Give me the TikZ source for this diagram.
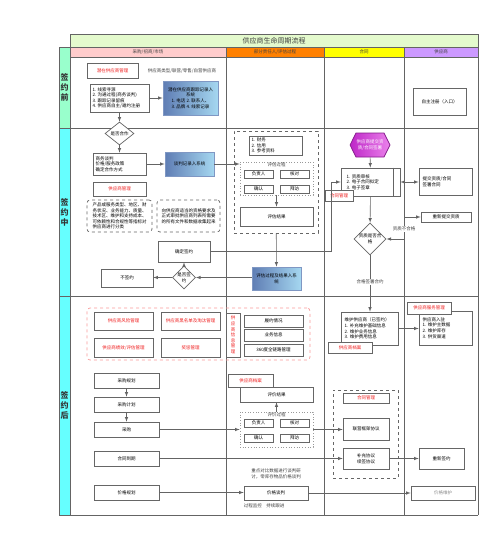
\documentclass[tikz,border=0pt]{standalone}
\usepackage{fontspec}
\setmainfont{Noto Sans CJK SC}
\XeTeXlinebreaklocale "zh"
\usetikzlibrary{shapes.geometric,shapes.symbols}

\definecolor{ttl}{RGB}{228,250,205}
\definecolor{hpink}{RGB}{255,204,204}
\definecolor{horange}{RGB}{255,128,0}
\definecolor{hyellow}{RGB}{255,255,0}
\definecolor{hpurple}{RGB}{204,153,255}
\definecolor{bandg}{RGB}{153,255,204}
\definecolor{bandc}{RGB}{102,255,255}
\definecolor{bluea}{RGB}{95,125,180}
\definecolor{blueb}{RGB}{165,215,240}
\definecolor{maga}{RGB}{190,40,200}
\definecolor{magb}{RGB}{235,130,235}
\definecolor{rtxt}{RGB}{240,30,30}
\definecolor{lgray}{RGB}{100,100,100}
\newcommand{\fs}{\fontsize{4.5}{5.6}\selectfont}

\begin{document}
\begin{tikzpicture}[>=latex,x=1pt,y=-1pt,
  bx/.style={draw=black!60,line width=0.7pt,fill=white,inner sep=0.5pt,align=center,font=\fs},
  rbx/.style={bx,text=rtxt},
  bbx/.style={bx,draw=bluea!80,left color=bluea,right color=blueb},
  dia/.style={bx,diamond,inner sep=0pt},
  note/.style={bx,dashed,rounded corners=3pt,align=left},
  grp/.style={draw=black!60,dashed,line width=0.7pt},
  sub/.style={draw=black!40,dotted,line width=0.7pt},
  hd/.style={draw=lgray,line width=0.5pt,inner sep=0pt,font=\fs,text=black!75},
  ln/.style={draw=lgray,line width=0.6pt},
  tag/.style={font=\fs,text=black!75,inner sep=0.5pt}]
\useasboundingbox (0,0) rectangle (500,538);

% lanes
\draw[ln] (59,128) -- (478,128);
\draw[ln] (59,296) -- (478,296);
\draw[ln] (59,515) -- (478,515);
\draw[ln] (70,57) -- (70,515);
\draw[ln] (226,57) -- (226,515);
\draw[ln] (324,57) -- (324,515);
\draw[ln] (404,57) -- (404,515);
\draw[ln] (478,34) -- (478,515);
\node[hd,fill=ttl,minimum width=408,minimum height=13,font=\fontsize{7}{8}\selectfont] (title) at (274,40.5) {供应商生命周期流程};
\node[hd,fill=hpink,minimum width=156,minimum height=10] (hcg) at (148,52) {采购/招商/市场};
\node[hd,fill=horange,minimum width=98,minimum height=10] (hpg) at (275,52) {部分责任人/评估过程};
\node[hd,fill=hyellow,minimum width=80,minimum height=10] (hht) at (364,52) {合同};
\node[hd,fill=hpurple,minimum width=74,minimum height=10] (hgy) at (441,52) {供应商};
\node[hd,fill=bandg,minimum width=11,minimum height=81,align=center,text=black!80,font=\bfseries\fontsize{8}{10}\selectfont] (pre) at (64.5,87.5) {签\\约\\前};
\node[hd,fill=bandc,minimum width=11,minimum height=168,align=center,text=black!80,font=\bfseries\fontsize{8}{10}\selectfont] (mid) at (64.5,212) {签\\约\\中};
\node[hd,fill=bandc,minimum width=11,minimum height=219,align=center,text=black!80,font=\bfseries\fontsize{8}{10}\selectfont] (post) at (64.5,405.5) {签\\约\\后};

% 签约前
\node[rbx,minimum width=51,minimum height=15] (qzgl) at (112.5,70.5) {潜在供应商管理};
\node[tag] (lx) at (182,70.5) {供应商类型/联营/零售/自营供应商};
\node[bx,minimum width=59,minimum height=28,align=left,text width=54] (xs) at (119.5,98) {1.\ 线索寻源\\2.\ 沟通过程(商务谈判)\\3.\ 跟踪记录留痕\\4.\ 供应商自主/邀约注册};
\node[bbx,minimum width=55,minimum height=34] (qzjl) at (190.5,98) {潜在供应商跟踪记录入\\系统\\1.\ 电话 2.\ 联系人、\\3.\ 品牌 4.\ 线索记录};
\node[bx,minimum width=53,minimum height=27] (zzzc) at (439.5,101.5) {自主注册（入口）};
\draw[ln,->] (xs) -- (qzjl);

% 签约中
\node[dia,minimum width=29,minimum height=23] (sfhz) at (119.5,133.5) {是否合作};
\node[bx,minimum width=53,minimum height=22,align=left,text width=48] (swtp) at (119.5,164) {商务谈判\\价格/服务政策\\确定合作方式};
\node[bbx,minimum width=49,minimum height=24] (tpjl) at (189.5,164) {谈判记录入系统};
\node[rbx,minimum width=53,minimum height=14] (gysgl) at (119.5,189) {供应商管理};
\node[note,minimum width=65,minimum height=32] (fl) at (119.5,216) {产品或服务类型、地区、财\\务状况、业务能力、质量、\\技术区、维护和支持成本、\\可依赖性和合规性等指标对\\供应商进行分类};
\node[note,minimum width=63,minimum height=32] (zg) at (188.5,216) {向供应商适当的资格要求及\\正式审批供应商列表所需要\\的所有文件和数据收集起来};
\node[bx,minimum width=52,minimum height=21] (qdqy) at (184,251.5) {确定签约};
\node[dia,minimum width=22,minimum height=21] (sfqy) at (184,277.5) {是否签\\约};
\node[bx,minimum width=52,minimum height=18] (bqy) at (127,278) {不签约};
\draw[ln,->] (xs) -- (sfhz);
\draw[ln,->] (sfhz) -- (swtp);
\draw[ln,->] (swtp) -- (tpjl);
\draw[ln,->] (sfqy) -- (qdqy);
\draw[ln,->] (sfqy) -- (sfqy -| bqy.east);

\node[grp,minimum width=84,minimum height=102] (pgz) at (276,182) {};
\node[bx,minimum width=53,minimum height=19,align=left,text width=48] (cw) at (275.5,145.5) {1.\ 财务\\2.\ 信用\\3.\ 参考资料};
\node[sub,minimum width=73,minimum height=33] (pggc) at (276.5,178.5) {};
\node[tag,anchor=north] (pggct) at (276.5,162.5) {评估过程};
\node[bx,minimum width=29,minimum height=8] (fzr1) at (258.5,174) {负责人};
\node[bx,minimum width=29,minimum height=8] (hd1) at (294.5,174) {核对};
\node[bx,minimum width=29,minimum height=8] (qr1) at (258.5,189) {确认};
\node[bx,minimum width=29,minimum height=8] (bf1) at (294.5,189) {拜访};
\node[bx,minimum width=73,minimum height=19] (pgjg) at (276.5,216.5) {评估结果};
\node[bbx,minimum width=49,minimum height=23] (pgrx) at (276.5,278.5) {评估过程及结果入系\\统};
\draw[ln,->] (tpjl.east) -- (tpjl.east -| pggc.west);
\draw[ln,->] (pggc) -- (pgjg);
\draw[ln,->] (pgz) -- (pgrx);
\draw[ln,->] (pgrx.west |- sfqy) -- (sfqy);

\node[bx,shape=signal,signal to=east and west,signal pointer angle=127,left color=maga,right color=magb,draw=maga!70!black,minimum width=36,minimum height=24,text=white] (hex) at (370,145) {供应商提交资\\质/合同签署};
\node[bx,minimum width=59,minimum height=28,align=left,text width=48] (zssh) at (370.5,182) {1.\ 资质审核\\2.\ 电子合同拟定\\3.\ 电子签章};
\draw[ln] ([xshift=-7pt]zssh.north east) -- ([xshift=-7pt]zssh.south east);
\node[rbx,minimum width=28,minimum height=11] (htgl1) at (339,195.5) {合同管理};
\node[bx,minimum width=53,minimum height=27,align=left,text width=46] (tjzz) at (445.5,181.5) {提交资质/合同\\签署合同};
\node[bx,minimum width=50,minimum height=10] (cxtj) at (446,217) {重新提交资质};
\node[dia,minimum width=32,minimum height=24] (zshg) at (370,239) {资质是否合\\格};
\coordinate (k1) at (331,251.5);
\draw[ln,->] (qdqy.east) -- (k1) |- (zssh.west);
\draw[ln,->] (hex) -- (zssh);
\draw[ln,<->] (zssh.east) -- (zssh.east -| tjzz.west);
\draw[ln,->] (zssh) -- (zshg);
\draw[ln,<->] (zshg.east) -- ++(18,0) |- (cxtj.west);

% 签约后
\node[draw=rtxt!45,dashed,rounded corners=3pt,line width=0.7pt,minimum width=223,minimum height=52] (fxz) at (198.5,334) {};
\node[rbx,minimum width=59,minimum height=18] (fx) at (123.5,321) {供应商风险管理};
\node[rbx,minimum width=59,minimum height=18] (hmd) at (190.5,321) {供应商黑名单及淘汰管理};
\node[rbx,minimum width=59,minimum height=19] (jx) at (123.5,347.5) {供应商绩效/评估管理};
\node[rbx,minimum width=59,minimum height=19] (jc) at (190.5,347.5) {奖惩管理};
\node[rbx,minimum width=14,minimum height=44] (xxgl) at (233,335) {供\\应\\商\\信\\息\\管\\理};
\node[bx,minimum width=59,minimum height=12] (lyqk) at (273.5,321) {履约情况};
\node[bx,minimum width=59,minimum height=12] (ywxx) at (273.5,335) {业务信息};
\node[bx,minimum width=59,minimum height=12] (qlgl) at (273.5,350) {360度全链路管理};

\node[bx,minimum width=57,minimum height=33,align=left,text width=50] (whgys) at (369.5,328.5) {维护供应商（已签约）\\1.\ 补充维护基础信息\\2.\ 维护业务信息\\3.\ 维护费用信息};
\node[rbx,minimum width=44,minimum height=11] (gysda1) at (350,347.5) {供应商档案};
\node[bx,minimum width=53,minimum height=34,align=left,text width=46] (gysrz) at (445.5,328) {供应商入驻\\1.\ 维护主数据\\2.\ 维护库存\\3.\ 供货渠道};
\node[rbx,minimum width=44,minimum height=12] (fwgl) at (429,308) {供应商服务管理};
\draw[ln,->] (zshg) -- (zshg |- whgys.north);
\draw[ln,->] (whgys.east) -- (whgys.east -| gysrz.west);
\node[tag,fill=white] (bhg) at (404,229) {资质不合格};
\node[tag,fill=white] (hgqy) at (370,282) {合格签署合约};

\node[bx,minimum width=65,minimum height=15] (cggh) at (126.5,380.5) {采购规划};
\node[bx,minimum width=65,minimum height=15] (cgjh) at (126.5,404.5) {采购计划};
\node[bx,minimum width=65,minimum height=15] (cg) at (126.5,429.5) {采购};
\node[bx,minimum width=65,minimum height=15] (htdq) at (126.5,458.5) {合同到期};
\node[bx,minimum width=65,minimum height=15] (jggh) at (126.5,492.5) {价格规划};
\draw[ln,->] (cggh) -- (cgjh);
\draw[ln,->] (cgjh) -- (cg);

\node[bx,minimum width=73,minimum height=15] (pjjg) at (276.5,394.5) {评价结果};
\node[rbx,minimum width=45,minimum height=13] (gysda2) at (250.5,380.5) {供应商档案};
\node[sub,minimum width=73,minimum height=35] (pjgc) at (276.5,429.5) {};
\node[tag,anchor=north] (pjgct) at (276.5,412.5) {评价过程};
\node[bx,minimum width=29,minimum height=8] (fzr2) at (258.5,423) {负责人};
\node[bx,minimum width=29,minimum height=8] (hd2) at (294.5,423) {核对};
\node[bx,minimum width=29,minimum height=8] (qr2) at (258.5,438) {确认};
\node[bx,minimum width=29,minimum height=8] (bf2) at (294.5,438) {拜访};
\draw[ln,->] (pjgc) -- (pjjg);
\draw[ln,->] (cg) -- (pjgc);

\node[grp,minimum width=65,minimum height=88] (htz) at (365.5,434) {};
\node[rbx,minimum width=46,minimum height=10] (htgl2) at (366,398) {合同管理};
\node[bx,minimum width=46,minimum height=22] (kjxy) at (366,429) {联营框架协议};
\node[bx,minimum width=46,minimum height=21] (bcxy) at (366,458.5) {补充协议\\续签协议};
\node[bx,minimum width=45,minimum height=21] (cxqy) at (441.5,458.5) {重新签约};
\draw[ln,->] (pjgc.east) -- (pjgc.east -| kjxy.west);
\draw[ln,->] (htdq) -- (bcxy);
\draw[ln,->] (bcxy) -- (cxqy);

\node[tag,align=left] (zdsm) at (276,474) {重点对比数据进行谈判研\\讨，零库存物品价格谈判};
\node[bx,minimum width=64,minimum height=14] (jgtp) at (276,493) {价格谈判};
\node[bx,minimum width=64,minimum height=14,text=black!45] (jgwh) at (443,493) {价格维护};
\node[tag] (gcjk) at (264,506) {过程监控\quad 持续跟进};
\draw[ln,->] (jggh.east) -- (jggh.east -| jgtp.west);
\draw[ln,->] (jgtp) -- (jgwh);
\end{tikzpicture}
\end{document}
